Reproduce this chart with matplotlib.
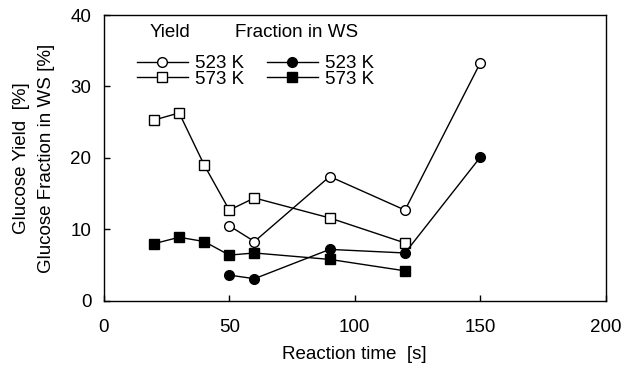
import matplotlib
matplotlib.use("Agg")
from matplotlib import pyplot as plt

plt.rcParams["font.family"] = ["Liberation Sans", "DejaVu Sans"]
plt.rcParams["font.size"] = 13.5

# glucose yield (open) and fraction in water-soluble (filled)
t_523 = [50, 60, 90, 120, 150]
yield_523 = [10.5, 8.3, 17.4, 12.7, 33.3]
ws_523 = [3.6, 3.1, 7.2, 6.7, 20.1]

t_573 = [20, 30, 40, 50, 60, 90, 120]
yield_573 = [25.3, 26.3, 19.0, 12.7, 14.4, 11.6, 8.1]
ws_573 = [8.0, 8.9, 8.3, 6.4, 6.7, 5.8, 4.2]

fig = plt.figure(figsize=(6.37, 3.66), dpi=100)
ax = fig.add_axes([0.163, 0.178, 0.788, 0.781])

ms = 7
l1, = ax.plot(t_523, yield_523, "-o", color="black", lw=1, ms=ms, mfc="white", mew=1)
l2, = ax.plot(t_573, yield_573, "-s", color="black", lw=1, ms=ms, mfc="white", mew=1)
l3, = ax.plot(t_523, ws_523, "-o", color="black", lw=1, ms=ms, mfc="black")
l4, = ax.plot(t_573, ws_573, "-s", color="black", lw=1, ms=ms, mfc="black")

ax.set_xlim(0, 200)
ax.set_ylim(0, 40)
ax.set_xticks([0, 50, 100, 150, 200])
ax.set_yticks([0, 10, 20, 30, 40])
ax.tick_params(direction="in", length=4, width=1)
ax.tick_params(axis="x", pad=13)
ax.tick_params(axis="y", pad=9)
for s in ax.spines.values():
    s.set_linewidth(1)

ax.set_xlabel("Reaction time  [s]", labelpad=7)
ax.set_ylabel("Glucose Yield  [%]\nGlucose Fraction in WS [%]", labelpad=11,
              linespacing=1.65)

ax.text(0.092, 0.94, "Yield", transform=ax.transAxes, va="center")
ax.text(0.261, 0.94, "Fraction in WS", transform=ax.transAxes, va="center")
ax.legend([l1, l2, l3, l4], ["523 K", "573 K", "523 K", "573 K"], ncol=2,
          loc="upper left", bbox_to_anchor=(0.066, 0.86), frameon=False,
          handlelength=2.7, handletextpad=0.37, columnspacing=1.25,
          labelspacing=-0.08, borderaxespad=0, borderpad=0)

fig.savefig("out.png", dpi=100)
